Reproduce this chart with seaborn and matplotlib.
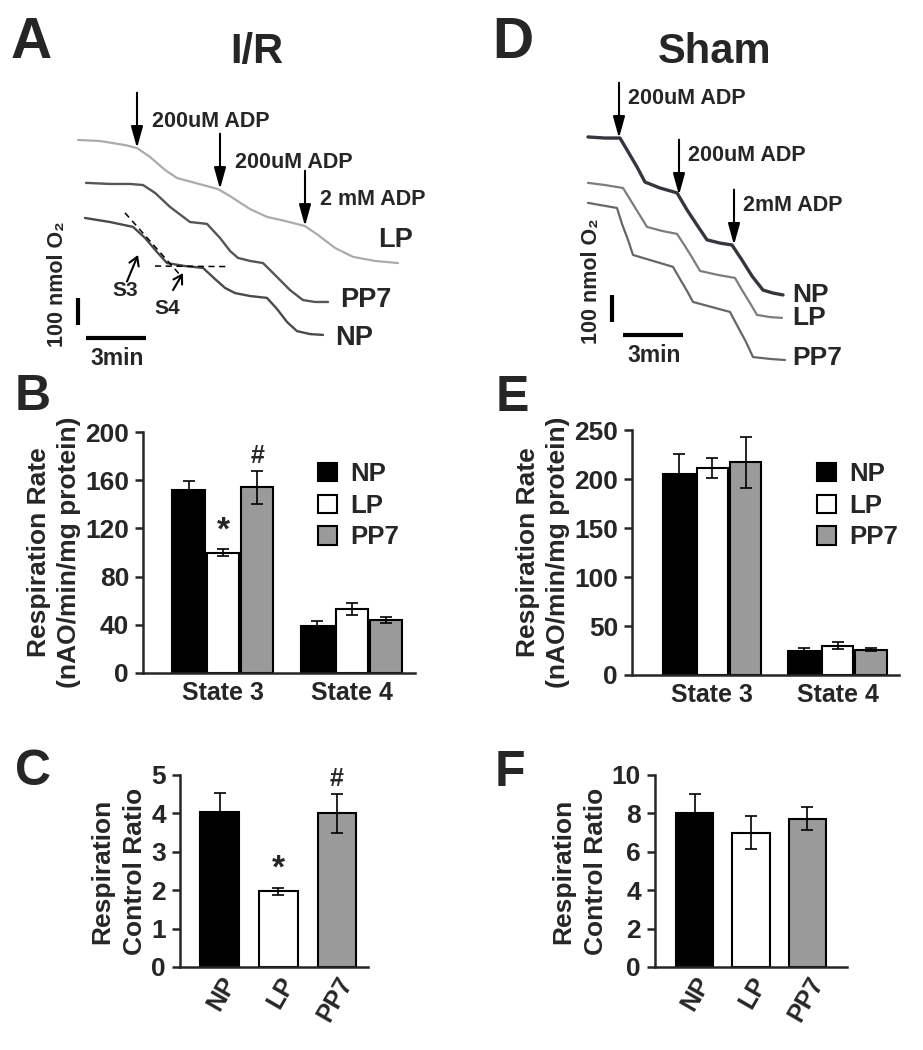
import matplotlib
matplotlib.use("Agg")
import matplotlib.pyplot as plt
from matplotlib.container import BarContainer
import numpy as np
import pandas as pd
import seaborn as sns

sns.set_style("white")
plt.rcParams["font.family"] = ["Liberation Sans", "DejaVu Sans"]
plt.rcParams["font.weight"] = "bold"
plt.rcParams["axes.labelweight"] = "bold"

groups = ["NP", "LP", "PP7"]
states = ["State 3", "State 4"]
bar_colors = ["#000000", "#ffffff", "#9a9a9a"]

# B: I/R respiration rate (nAO/min/mg protein), mean and error
ir_rate_s3 = [152, 100, 154]
ir_rate_s4 = [39, 53, 44]
ir_err_s3 = [7, 3, 14]
ir_err_s4 = [4, 5, 2.5]
ir_rate_marks = ["", "*", "#"]

# E: Sham respiration rate
sham_rate_s3 = [205, 211, 217]
sham_rate_s4 = [25, 30, 26]
sham_err_s3 = [21, 10, 26]
sham_err_s4 = [3, 3.5, 2]

# C, F: respiration control ratio
ir_rcr = [4.03, 1.97, 4.0]
ir_rcr_err = [0.5, 0.1, 0.5]
ir_rcr_marks = ["", "*", "#"]
sham_rcr = [8.0, 7.0, 7.72]
sham_rcr_err = [1.0, 0.88, 0.6]

# A: I/R oxygen traces (time in min, O2 in nmol)
ir_lp_t = [3.9, 5.0, 6.25, 6.85, 7.5, 8.25, 8.85, 9.75, 10.9, 11.5, 12.5, 13.35,
           14.25, 15.25, 15.9, 16.75, 17.65, 18.75, 19.9]
ir_lp_o2 = [889, 885, 870, 859, 826, 778, 748, 730, 707, 681, 633, 604,
            589, 570, 537, 489, 456, 441, 433]
ir_pp7_t = [4.3, 5.5, 6.5, 7.15, 7.75, 8.5, 9.5, 10.0, 10.35, 11.0, 11.5, 11.9,
            12.5, 13.15, 13.75, 14.5, 15.15, 15.75, 16.4]
ir_pp7_o2 = [730, 726, 726, 722, 693, 641, 585, 581, 578, 526, 478, 452,
             441, 433, 389, 333, 296, 289, 289]
ir_np_t = [4.25, 5.5, 6.65, 7.25, 7.85, 8.35, 9.25, 10.15, 10.75, 11.25, 11.75,
           12.5, 13.35, 13.85, 14.35, 14.85, 15.5, 16.15]
ir_np_o2 = [600, 585, 567, 526, 474, 433, 422, 415, 374, 341, 322,
            311, 304, 263, 215, 181, 170, 167]
ir_adp_t = [6.85, 11.0, 15.25]
ir_adp_o2 = [859, 707, 570]
ir_adp_text = ["200uM ADP", "200uM ADP", "2 mM ADP"]
ir_label_o2 = [156, 519, 296]  # NP, LP, PP7
ir_label_t = [16.75, 18.9, 17.0]
s3_tangent_t = [6.25, 9.1]
s3_tangent_o2 = [619, 381]
s4_tangent_t = [7.75, 11.4]
s4_tangent_o2 = [422, 420]

# D: Sham oxygen traces
sh_np_t = [6.4, 7.25, 8.0, 8.35, 8.85, 9.25, 10.0, 10.85, 11.35, 11.85, 12.35,
           13.0, 13.6, 14.1, 14.6, 15.15, 15.65, 16.15]
sh_np_o2 = [900, 896, 896, 852, 789, 733, 711, 693, 630, 574, 519,
            507, 500, 444, 385, 333, 322, 315]
sh_lp_t = [6.4, 7.25, 8.15, 8.55, 8.95, 9.35, 10.1, 10.85, 11.25, 11.65, 12.0,
           12.9, 13.75, 14.1, 14.5, 14.85, 15.5, 16.1]
sh_lp_o2 = [730, 722, 711, 663, 615, 567, 552, 541, 496, 448, 404,
            389, 378, 333, 285, 241, 233, 230]
sh_pp7_t = [6.4, 7.0, 7.85, 8.1, 8.4, 8.65, 9.65, 10.65, 11.0, 11.35, 11.65,
            12.6, 13.5, 13.9, 14.3, 14.65, 15.5, 16.25]
sh_pp7_o2 = [656, 648, 637, 578, 519, 463, 441, 419, 374, 330, 289,
             270, 252, 196, 141, 85, 78, 74]
sh_adp_t = [7.95, 10.95, 13.7]
sh_adp_o2 = [896, 685, 500]
sh_adp_text = ["200uM ADP", "200uM ADP", "2mM ADP"]
sh_label_o2 = [315, 230, 81]  # NP, LP, PP7
sh_label_t = [16.6, 16.6, 16.6]

fig = plt.figure(figsize=(9.23, 10.5), dpi=100)


def trace_panel(ax, traces, colors, widths, adp_t, adp_o2, adp_text, dx, dy,
                lab_t, lab_o2, lab_size, vbar_t, hbar_o2, bar_t0):
    for (t, o2), c, w in zip(traces, colors, widths):
        sns.lineplot(x=t, y=o2, ax=ax, color=c, lw=w, sort=False, estimator=None)
    for t, o2, txt in zip(adp_t, adp_o2, adp_text):
        ax.annotate("", xy=(t, o2), xytext=(t, o2 + 205),
                    arrowprops=dict(arrowstyle="-|>,head_length=0.65,head_width=0.18",
                                    color="black", lw=1.5, mutation_scale=20,
                                    shrinkA=0, shrinkB=0))
        ax.text(t + dx, o2 + dy, txt, fontsize=15.5, ha="left", va="center")
    for g, t, o2 in zip(groups, lab_t, lab_o2):
        ax.text(t, o2, g, fontsize=lab_size, ha="left", va="center")
    # scale bars: 100 nmol and 3 min
    ax.plot([vbar_t, vbar_t], [hbar_o2 + 48, hbar_o2 + 148], color="black", lw=3,
            solid_capstyle="butt")
    ax.plot([bar_t0, bar_t0 + 3], [hbar_o2, hbar_o2], color="black", lw=3,
            solid_capstyle="butt")
    ax.text(bar_t0 + 1.55, hbar_o2 - 78, "3min", fontsize=16.5, ha="center", va="center")
    ax.text(vbar_t - 1.0, hbar_o2 + 200, "100 nmol O₂", fontsize=15.5,
            rotation=90, ha="center", va="center")
    ax.set_xlim(0, 23)
    ax.set_ylim(0, 1185)
    ax.axis("off")


ax_a = fig.add_axes([0, 1 - 380 / 1050, 460 / 923, 320 / 1050])
trace_panel(ax_a, [(ir_lp_t, ir_lp_o2), (ir_pp7_t, ir_pp7_o2), (ir_np_t, ir_np_o2)],
            ["#ababab", "#555555", "#4a4a4a"], [1.6, 1.7, 1.7],
            ir_adp_t, ir_adp_o2, ir_adp_text, 0.75, 100,
            ir_label_t, ir_label_o2, 19.5, 3.9, 156, 4.3)
ax_a.plot(s3_tangent_t, s3_tangent_o2, color="black", lw=1.1, ls=(0, (4, 3)))
ax_a.plot(s4_tangent_t, s4_tangent_o2, color="black", lw=1.1, ls=(0, (4, 3)))
ax_a.annotate("", xy=(6.9, 463), xytext=(6.35, 365),
              arrowprops=dict(arrowstyle="->,head_length=0.5,head_width=0.3",
                              color="black", lw=1.5, mutation_scale=12,
                              shrinkA=0, shrinkB=0))
ax_a.annotate("", xy=(9.15, 396), xytext=(8.65, 333),
              arrowprops=dict(arrowstyle="->,head_length=0.5,head_width=0.3",
                              color="black", lw=1.5, mutation_scale=12,
                              shrinkA=0, shrinkB=0))
ax_a.text(6.25, 330, "S3", fontsize=15, ha="center", va="center")
ax_a.text(8.35, 264, "S4", fontsize=15, ha="center", va="center")

ax_d = fig.add_axes([460 / 923, 1 - 380 / 1050, 460 / 923, 320 / 1050])
trace_panel(ax_d, [(sh_np_t, sh_np_o2), (sh_lp_t, sh_lp_o2), (sh_pp7_t, sh_pp7_o2)],
            ["#353542", "#7c7c84", "#66666e"], [2.4, 1.6, 1.6],
            sh_adp_t, sh_adp_o2, sh_adp_text, 0.45, 145,
            sh_label_t, sh_label_o2, 19, 7.6, 167, 8.15)


def style_axis(ax, ymax, ystep, ylab, spacing):
    sns.despine(ax=ax)
    for s in ["left", "bottom"]:
        ax.spines[s].set_linewidth(1.8)
    ax.set_ylim(0, ymax)
    ax.set_yticks(np.arange(0, ymax + ystep / 2, ystep))
    ax.tick_params(axis="y", left=True, direction="out", length=6, width=1.8,
                   labelsize=19, pad=4)
    ax.set_ylabel(ylab, fontsize=19, linespacing=spacing, labelpad=3)
    ax.set_xlabel("")


def bar_containers(ax):
    return [c for c in ax.containers if isinstance(c, BarContainer)]


def rate_panel(ax, s3, s4, e3, e4, ymax, ystep, xlim, marks, legend_xy):
    df = pd.DataFrame({
        "state": np.repeat(states, len(groups)),
        "group": groups * len(states),
        "rate": s3 + s4,
    })
    sns.barplot(data=df, x="state", y="rate", hue="group", hue_order=groups,
                palette=dict(zip(groups, bar_colors)), edgecolor="black",
                linewidth=1.5, errorbar=None, width=0.8, gap=0.06, ax=ax)
    errs = [e3, e4]
    for gi, cont in enumerate(bar_containers(ax)):
        for si, bar in enumerate(cont):
            x = bar.get_x() + bar.get_width() / 2
            h = bar.get_height()
            ax.errorbar(x, h, yerr=errs[si][gi], fmt="none", ecolor="black",
                        elinewidth=1.2, capsize=4, capthick=1.2)
            if si == 0 and marks and marks[gi]:
                ax.text(x, h + errs[si][gi] + 2, marks[gi], ha="center", va="bottom",
                        fontsize=24 if marks[gi] == "*" else 18)
    handles, labels = ax.get_legend_handles_labels()
    ax.legend(handles, labels, loc="upper left", bbox_to_anchor=legend_xy,
              bbox_transform=fig.transFigure, frameon=False, fontsize=18.5,
              handlelength=0.72, handleheight=0.72, handletextpad=0.55,
              labelspacing=0.3, borderpad=0, borderaxespad=0)
    style_axis(ax, ymax, ystep, "Respiration Rate\n(nAO/min/mg protein)", 1.3)
    ax.set_xlim(*xlim)
    ax.tick_params(axis="x", length=0, labelsize=18, pad=6)


def rcr_panel(ax, vals, errs, ymax, ystep, xlim, marks):
    sns.barplot(x=groups, y=vals, hue=groups, palette=dict(zip(groups, bar_colors)),
                legend=False, edgecolor="black", linewidth=1.5, errorbar=None,
                width=0.66, ax=ax)
    for gi, cont in enumerate(bar_containers(ax)):
        bar = cont[0]
        x = bar.get_x() + bar.get_width() / 2
        h = bar.get_height()
        ax.errorbar(x, h, yerr=errs[gi], fmt="none", ecolor="black",
                    elinewidth=1.2, capsize=4, capthick=1.2)
        if marks and marks[gi]:
            ax.text(x, h + errs[gi] + 0.08, marks[gi], ha="center", va="bottom",
                    fontsize=24 if marks[gi] == "*" else 18)
    style_axis(ax, ymax, ystep, "Respiration\nControl Ratio", 1.45)
    ax.set_xlim(*xlim)
    ax.tick_params(axis="x", length=0, labelsize=18, pad=4)
    for lbl in ax.get_xticklabels():
        lbl.set_rotation(60)
        lbl.set_ha("right")
        lbl.set_rotation_mode("anchor")


ax_b = fig.add_axes([143 / 923, 1 - 673 / 1050, 272 / 923, 241 / 1050])
rate_panel(ax_b, ir_rate_s3, ir_rate_s4, ir_err_s3, ir_err_s4, 200, 40,
           (-0.62, 1.49), ir_rate_marks, (318 / 923, 1 - 462 / 1050))

ax_e = fig.add_axes([632 / 923, 1 - 675 / 1050, 267 / 923, 245 / 1050])
rate_panel(ax_e, sham_rate_s3, sham_rate_s4, sham_err_s3, sham_err_s4, 250, 50,
           (-0.64, 1.49), None, (817 / 923, 1 - 462 / 1050))

ax_c = fig.add_axes([180 / 923, 1 - 967 / 1050, 188 / 923, 192 / 1050])
rcr_panel(ax_c, ir_rcr, ir_rcr_err, 5, 1, (-0.68, 2.53), ir_rcr_marks)

ax_f = fig.add_axes([655 / 923, 1 - 967 / 1050, 192 / 923, 192 / 1050])
rcr_panel(ax_f, sham_rcr, sham_rcr_err, 10, 2, (-0.7, 2.7), None)

# panel letters and titles
for letter, x, y, size in [("A", 31, 43, 41), ("D", 513, 43, 41), ("B", 33, 397, 36),
                           ("E", 512, 398, 36), ("C", 33, 772, 36), ("F", 510, 773, 36)]:
    fig.text(x / 923, 1 - y / 1050, letter, fontsize=size, ha="center", va="center")
fig.text(257 / 923, 1 - 52 / 1050, "I/R", fontsize=30, ha="center", va="center")
fig.text(715 / 923, 1 - 52 / 1050, "Sham", fontsize=30, ha="center", va="center")

fig.savefig("out.png", dpi=100)
